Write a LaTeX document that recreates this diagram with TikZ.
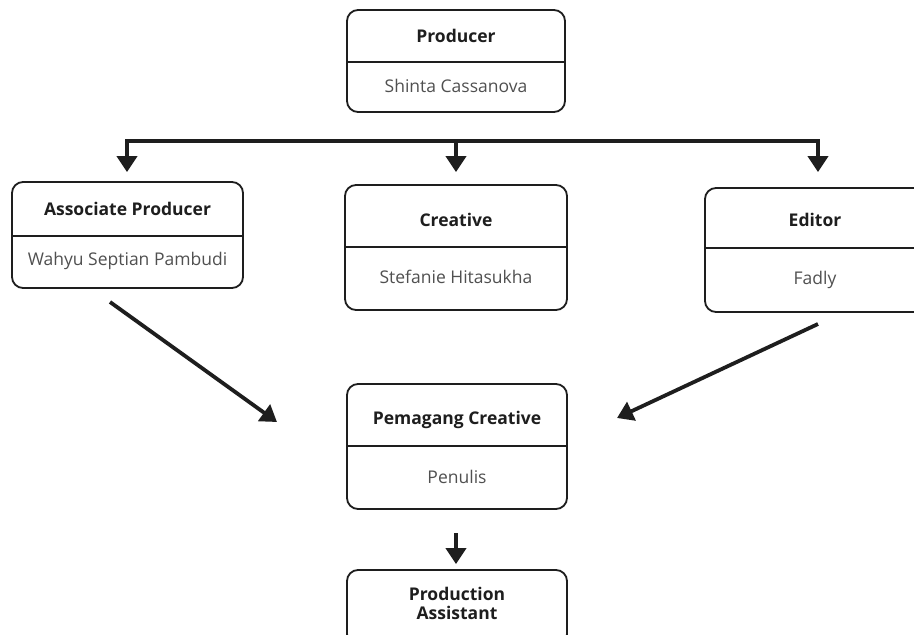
\documentclass[tikz,border=0pt]{standalone}
\usepackage{fontspec}
\setmainfont{Open Sans}
\usetikzlibrary{arrows.meta}
\definecolor{ink}{HTML}{1E1E1E}
\definecolor{namec}{HTML}{505050}
\tikzset{
  box/.style={draw=ink, line width=1.8pt, rounded corners=11pt, inner sep=0pt},
  ttl/.style={font=\fontsize{17.5}{20}\selectfont\bfseries, text=ink, align=center, inner sep=0pt},
  nm/.style={font=\fontsize{17.5}{20}\selectfont, text=namec, inner sep=0pt},
  div/.style={draw=ink, line width=1.8pt},
  bus/.style={draw=ink, line width=3.8pt, line cap=rect},
  arr/.style={draw=ink, line width=3.8pt, -{Triangle[width=20pt,length=16pt]}}
}
\begin{document}
\begin{tikzpicture}[x=1pt,y=-1pt]
\clip (0,0) rectangle (914,635);
\fill[white] (0,0) rectangle (914,635);
% boxes
\node[box, minimum width=218pt, minimum height=102pt] (prod) at (456,61) {};
\node[box, minimum width=231pt, minimum height=106pt] (assoc) at (127.5,235) {};
\node[box, minimum width=222pt, minimum height=125pt] (creat) at (456,247.5) {};
\node[box, minimum width=220pt, minimum height=124pt] (edit) at (815,250) {};
\node[box, minimum width=220pt, minimum height=125pt] (pem) at (457,446.5) {};
\node[box, minimum width=220pt, minimum height=75pt] (pa) at (457,607.5) {};
% dividers
\draw[div] (prod.west |- 0,62) -- (prod.east |- 0,62);
\draw[div] (assoc.west |- 0,236) -- (assoc.east |- 0,236);
\draw[div] (creat.west |- 0,247) -- (creat.east |- 0,247);
\draw[div] (edit.west |- 0,248) -- (edit.east |- 0,248);
\draw[div] (pem.west |- 0,446) -- (pem.east |- 0,446);
% texts
\node[ttl] (prodT) at (456,36) {Producer};
\node[nm] (prodN) at (456,86) {Shinta Cassanova};
\node[ttl] (assocT) at (127.5,209) {Associate Producer};
\node[nm] (assocN) at (127.5,261) {Wahyu Septian Pambudi};
\node[ttl] (creatT) at (456,220) {Creative};
\node[nm] (creatN) at (456,277) {Stefanie Hitasukha};
\node[ttl] (editT) at (815,220) {Editor};
\node[nm] (editN) at (815,280) {Fadly};
\node[ttl] (pemT) at (457,420) {Pemagang Creative};
\node[nm] (pemN) at (457,477) {Penulis};
\node[ttl] (paT) at (457,603) {Production\\[-1pt]Assistant};
% connectors
\coordinate (bl) at (127,141);
\coordinate (bm) at (456,141);
\coordinate (br) at (818,141);
\draw[bus] (bl) -- (br);
\draw[arr, shorten >=9pt] (bl) -- (bl |- assoc.north);
\draw[arr, shorten >=12pt] (bm) -- (bm |- creat.north);
\draw[arr, shorten >=15pt] (br) -- (br |- edit.north);
\coordinate (a1) at (110,302);
\coordinate (a2) at (277,422);
\coordinate (e1) at (818,324);
\coordinate (e2) at (617,418);
\draw[arr] (a1) -- (a2);
\draw[arr] (e1) -- (e2);
\coordinate (p1) at (456,533);
\draw[arr, shorten >=5pt] (p1) -- (p1 |- pa.north);
\end{tikzpicture}
\end{document}
